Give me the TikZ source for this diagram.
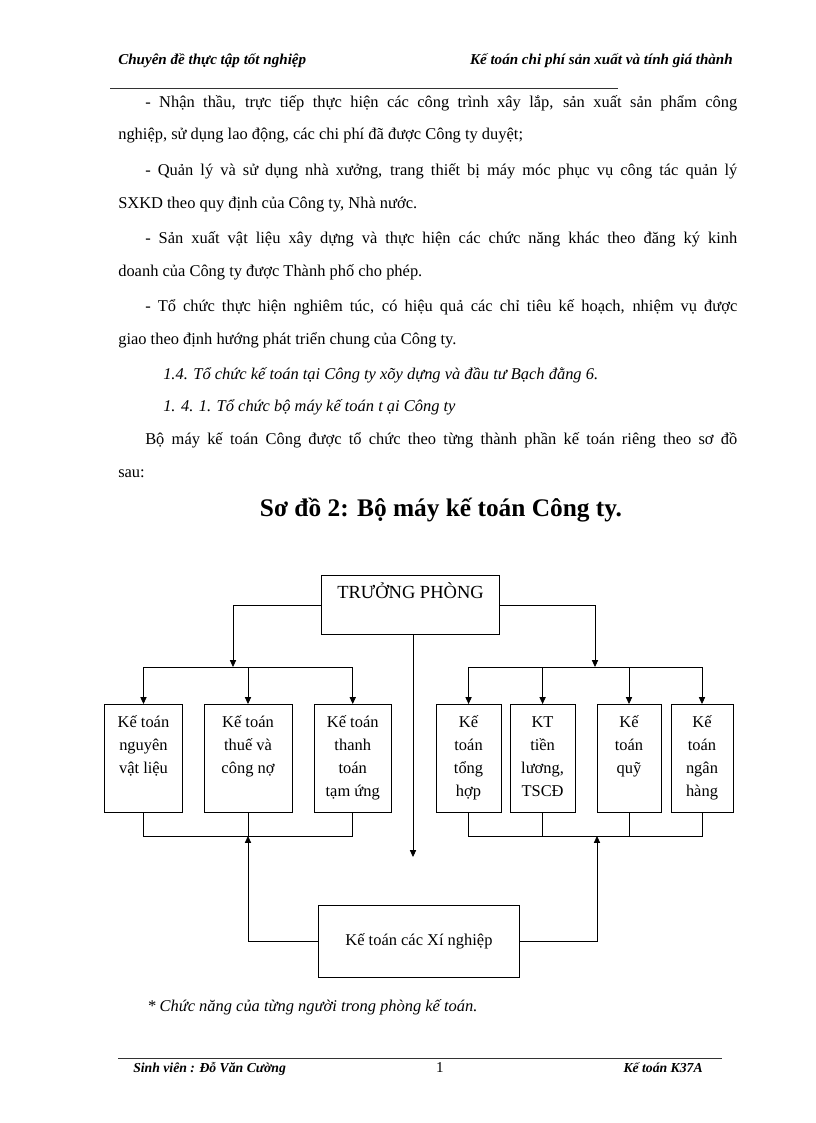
\documentclass[tikz,border=0pt]{standalone}
\usepackage{fontspec}
\setmainfont{Liberation Serif}
\usetikzlibrary{arrows.meta, positioning}

\begin{document}
\begin{tikzpicture}[
    x=0.7295pt, y=-0.7295pt,
    node distance=15.3pt,
    hdr/.style={inner sep=0pt, font=\fontsize{11}{13}\selectfont\bfseries\itshape},
    ftr/.style={hdr, font=\fontsize{10}{12}\selectfont\bfseries\itshape},
    txt/.style={anchor=base west, inner sep=0pt, font=\fontsize{12}{15}\selectfont},
    head/.style={txt, font=\fontsize{12}{15}\selectfont\itshape},
    rule/.style={line width=0.5pt, draw=black!80},
    boss/.style={
        draw, line width=0.7pt, inner sep=6.5pt, minimum width=129.9pt,
        text height=10pt, text depth=20pt, font=\fontsize{13.5}{15}\selectfont
    },
    acct/.style={
        draw, line width=0.7pt, inner xsep=0pt, inner ysep=5pt,
        font=\fontsize{12}{16.8}\selectfont,
        execute at begin node={\begin{minipage}[c][68.8pt][t]{#1}\centering\strut},
        execute at end node={\end{minipage}}
    },
    unit/.style={
        draw, line width=0.7pt, minimum width=146.6pt, minimum height=52.5pt,
        font=\fontsize{12}{15}\selectfont
    },
    link/.style={line width=0.6pt},
    arr/.style={link, -{Triangle[length=5pt, width=4.5pt]}}
]
\useasboundingbox (0,0) rectangle (816,1123);

% Header and footer
\node[hdr, anchor=base west] (hleft) at (118,64) {Chuyên đề thực tập tốt nghiệp};
\node[hdr, anchor=base east] (hright) at (733,64) {Kế toán chi phí sản xuất và tính giá thành};
\draw[rule] (110,88) -- (618,88);
\draw[rule] (118,1058) -- (722,1058);
\node[ftr, anchor=base west] (fleft) at (133,1072) {Sinh viên : Đỗ Văn Cường};
\node[txt, anchor=base, font=\fontsize{11}{13}\selectfont] (fpage) at (440,1072) {1};
\node[ftr, anchor=base east] (fright) at (703,1072) {Kế toán K37A};

% Text
\node[txt] (l1) at (145,107) {\makebox[431.9pt][s]{- Nhận thầu, trực tiếp thực hiện các công trình xây lắp, sản xuất sản phẩm công}};
\node[txt] (l2) at (118,139) {nghiệp, sử dụng lao động, các chi phí đã được Công ty duyệt;};
\node[txt] (l3) at (145,175) {\makebox[431.9pt][s]{- Quản lý và sử dụng nhà xưởng, trang thiết bị máy móc phục vụ công tác quản lý}};
\node[txt] (l4) at (118,208) {SXKD theo quy định của Công ty, Nhà nước.};
\node[txt] (l5) at (145,243) {\makebox[431.9pt][s]{- Sản xuất vật liệu xây dựng và thực hiện các chức năng khác theo đăng ký kinh}};
\node[txt] (l6) at (118,276) {doanh của Công ty được Thành phố cho phép.};
\node[txt] (l7) at (145,311) {\makebox[431.9pt][s]{- Tổ chức thực hiện nghiêm túc, có hiệu quả các chỉ tiêu kế hoạch, nhiệm vụ được}};
\node[txt] (l8) at (118,344) {giao theo định hướng phát triển chung của Công ty.};
\node[head] (l9) at (163,379) {1.4. Tổ chức kế toán tại Công ty xõy dựng và đầu tư Bạch đằng 6.};
\node[head] (l10) at (163,411) {1. 4. 1. Tổ chức bộ máy kế toán t ại Công ty};
\node[txt] (l11) at (145,444) {\makebox[431.9pt][s]{Bộ máy kế toán Công được tổ chức theo từng thành phần kế toán riêng theo sơ đồ}};
\node[txt] (l12) at (118,477) {sau:};
\node[txt, anchor=base, font=\fontsize{18.5}{22}\selectfont\bfseries] (title) at (441,516) {Sơ đồ 2: Bộ máy kế toán Công ty.};

% Boxes
\node[boss, anchor=north west] (tp) at (321,575) {TRƯỞNG PHÒNG};
\node[acct=56.9pt, anchor=north west] (b1) at (104,704) {Kế toán\\nguyên\\vật liệu};
\node[acct=64.2pt, right=15pt of b1] (b2) {Kế toán\\thuế và\\công nợ};
\node[acct=56.2pt, right=15.5pt of b2] (b3) {Kế toán\\thanh\\toán\\tạm ứng};
\node[acct=47.4pt, right=32pt of b3] (b4) {Kế\\toán\\tổng\\hợp};
\node[acct=47.4pt, right=5.9pt of b4] (b5) {KT\\tiền\\lương,\\TSCĐ};
\node[acct=46.7pt, right=15.3pt of b5] (b6) {Kế\\toán\\quỹ};
\node[acct=45.2pt, right=6.6pt of b6] (b7) {Kế\\toán\\ngân\\hàng};
\node[unit, anchor=north west] (kx) at (318,905) {Kế toán các Xí nghiệp};

% Connectors
\coordinate (ltop) at (233,667);
\coordinate (rtop) at (595,667);
\coordinate (lbot) at (251,836);
\coordinate (rbot) at (597,836);
\coordinate (cend) at (413,857);

\draw[arr] (tp.west) -| (ltop);
\draw[arr] (tp.east) -| (rtop);
\draw[arr] (tp.south -| cend) -- (cend);

\draw[link] (b1.north |- ltop) -- (b3.north |- ltop);
\draw[arr] (b1.north |- ltop) -- (b1.north);
\draw[arr] (b2.north |- ltop) -- (b2.north);
\draw[arr] (b3.north |- ltop) -- (b3.north);
\draw[link] (b4.north |- rtop) -- (b7.north |- rtop);
\draw[arr] (b4.north |- rtop) -- (b4.north);
\draw[arr] (b5.north |- rtop) -- (b5.north);
\draw[arr] (b6.north |- rtop) -- (b6.north);
\draw[arr] (b7.north |- rtop) -- (b7.north);

\draw[link] (b1.south) -- (b1.south |- lbot) -- (b3.south |- lbot) -- (b3.south);
\draw[link] (b2.south) -- (b2.south |- lbot);
\draw[link] (b4.south) -- (b4.south |- rbot) -- (b7.south |- rbot) -- (b7.south);
\draw[link] (b5.south) -- (b5.south |- rbot);
\draw[link] (b6.south) -- (b6.south |- rbot);
\draw[arr] (kx.west) -| (b2.south |- lbot);
\draw[arr] (kx.east) -| (rbot);

\node[head] (note) at (147,1011) {* Chức năng của từng người trong phòng kế toán.};
\end{tikzpicture}
\end{document}
